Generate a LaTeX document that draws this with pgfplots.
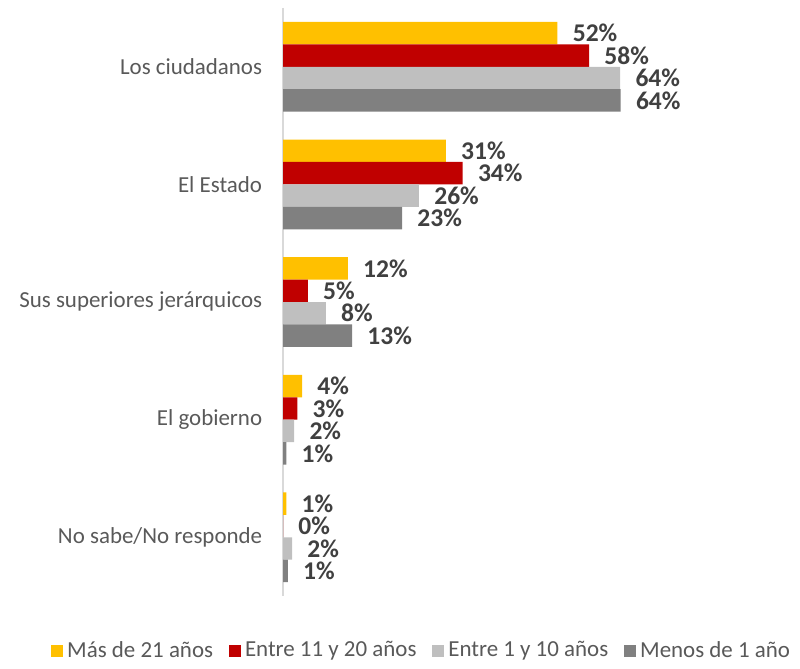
\documentclass[border=0pt]{standalone}
\usepackage{pgfplots}
\pgfplotsset{compat=1.18}
\usepackage{fontspec}
\setmainfont{Carlito}
\definecolor{cYel}{HTML}{FFC000}
\definecolor{cRed}{HTML}{C00000}
\definecolor{cLgr}{HTML}{BFBFBF}
\definecolor{cDgr}{HTML}{808080}
\definecolor{txt}{HTML}{595959}
\definecolor{lbl}{HTML}{404040}
\begin{document}
\begin{tikzpicture}
\begin{axis}[
    name=ax,
    scale only axis,
    width=243pt, height=295pt,
    xbar=0pt,
    bar width=11.25pt,
    xmin=0, xmax=92,
    ymin=-0.5, ymax=4.5,
    y dir=reverse,
    axis x line=none,
    axis y line=left,
    axis line style={-, draw=black!15, line width=0.8pt},
    ytick={0,1,2,3,4},
    yticklabels={Los ciudadanos,El Estado,Sus superiores jerárquicos,El gobierno,No sabe/No responde},
    major tick length=0pt,
    yticklabel style={font=\fontsize{11.5}{13}\selectfont, text=txt, xshift=-7pt},
    point meta=x,
    nodes near coords={\pgfmathprintnumber[fixed,precision=0,assume math mode=true]{\pgfplotspointmeta}\%},
    every node near coord/.append style={font=\fontsize{12.8}{14}\selectfont\bfseries, text=lbl, anchor=west, inner sep=0pt, xshift=7.5pt},
    clip=false,
    legend style={at={(0.288,-0.093)}, anchor=center, draw=none, legend columns=4,
        font=\fontsize{11.5}{13}\selectfont, text=txt,
        /tikz/every even column/.append style={column sep=6pt}},
    legend image code/.code={\fill[#1] (0pt,-3pt) rectangle (6pt,3pt);},
]
\addplot[fill=cYel, draw=none, bar shift=16.875pt] coordinates {(52.1,0) (30.9,1) (12.3,2) (3.6,3) (0.6,4)};
\addplot[fill=cRed, draw=none, bar shift=5.625pt] coordinates {(58.1,0) (34.1,1) (4.7,2) (2.7,3) (0,4)};
\addplot[fill=cLgr, draw=none, bar shift=-5.625pt] coordinates {(64,0) (25.8,1) (8.1,2) (2.1,3) (1.7,4)};
\addplot[fill=cDgr, draw=none, bar shift=-16.875pt] coordinates {(64.1,0) (22.6,1) (13.1,2) (0.6,3) (0.9,4)};
\legend{Más de 21 años, Entre 11 y 20 años, Entre 1 y 10 años, Menos de 1 año}
\end{axis}
\path (ax.south west) ++(-142pt,-31pt);
\path (ax.north east) ++(15pt,4pt);
\end{tikzpicture}
\end{document}
